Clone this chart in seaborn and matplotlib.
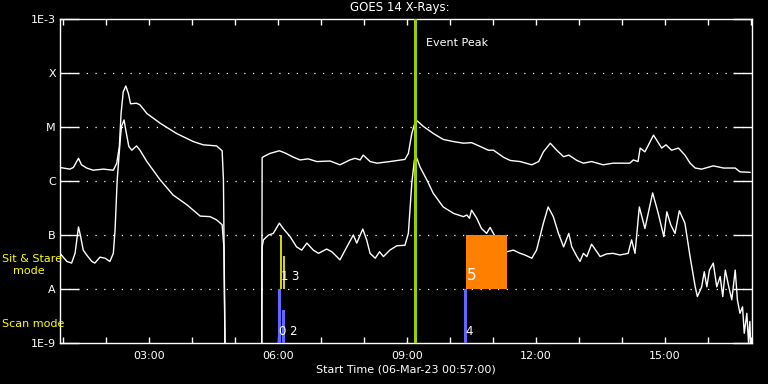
import numpy as np
import pandas as pd
import matplotlib
matplotlib.use("Agg")
import matplotlib.pyplot as plt
from matplotlib.ticker import FixedLocator, MultipleLocator, NullLocator
import seaborn as sns

# ---------------- data (hours of day, log10 flux W/m^2) ----------------
hours_long = [0.93, 1.16, 1.24, 1.36, 1.43, 1.55, 1.70, 1.94, 2.17, 2.25, 2.31, 2.35, 2.40, 2.46,
              2.52, 2.57, 2.71, 2.79, 2.95, 3.26, 3.64, 4.03, 4.26, 4.57, 4.70, 4.73, 4.77,
              5.62, 5.63, 5.66, 5.81, 6.03, 6.16, 6.36, 6.51, 6.70, 6.90, 7.21, 7.44, 7.67, 7.79,
              7.91, 7.98, 8.14, 8.30, 8.60, 8.95, 9.03, 9.11, 9.19, 9.24, 9.38, 9.61, 9.84,
              10.08, 10.31, 10.50, 10.70, 10.89, 11.01, 11.24, 11.40, 11.63, 11.90, 12.06,
              12.17, 12.33, 12.48, 12.64, 12.76, 12.95, 13.10, 13.29, 13.56, 13.79, 14.18,
              14.26, 14.37, 14.42, 14.53, 14.73, 14.92, 15.02, 15.15, 15.31, 15.46, 15.58,
              15.70, 15.85, 16.12, 16.36, 16.63, 16.74, 16.98]
log_long = [-5.75, -5.78, -5.75, -5.58, -5.70, -5.76, -5.80, -5.78, -5.80, -5.67, -5.36, -4.75,
            -4.35, -4.24, -4.38, -4.57, -4.56, -4.59, -4.75, -4.93, -5.12, -5.27, -5.33, -5.35,
            -5.44, -5.98, -9.30,
            -9.30, -5.57, -5.55, -5.49, -5.44, -5.48, -5.56, -5.61, -5.59, -5.64, -5.63, -5.70,
            -5.61, -5.58, -5.61, -5.52, -5.64, -5.67, -5.64, -5.60, -5.49, -5.12, -4.90, -4.89,
            -4.99, -5.12, -5.23, -5.27, -5.30, -5.29, -5.36, -5.43, -5.43, -5.56, -5.62, -5.64,
            -5.70, -5.64, -5.46, -5.30, -5.43, -5.55, -5.52, -5.62, -5.67, -5.64, -5.70, -5.67,
            -5.67, -5.61, -5.64, -5.39, -5.46, -5.15, -5.39, -5.33, -5.43, -5.39, -5.52, -5.67,
            -5.76, -5.78, -5.72, -5.76, -5.76, -5.83, -5.84]

hours_short = [0.93, 1.09, 1.20, 1.28, 1.36, 1.41, 1.47, 1.55, 1.67, 1.74, 1.86, 1.98, 2.09, 2.17,
               2.21, 2.26, 2.33, 2.36, 2.42, 2.46, 2.53, 2.60, 2.71, 2.79, 2.95, 3.26, 3.56,
               3.88, 4.19, 4.42, 4.57, 4.70, 4.74, 4.77,
               5.62, 5.63, 5.66, 5.78, 5.89, 6.03, 6.12, 6.28, 6.43, 6.55, 6.67, 6.82, 6.94,
               7.13, 7.25, 7.44, 7.60, 7.75, 7.83, 7.97, 8.06, 8.14, 8.26, 8.36, 8.45, 8.60,
               8.76, 8.95, 9.03, 9.11, 9.17, 9.23, 9.30, 9.46, 9.61, 9.84, 10.08, 10.31, 10.39,
               10.45, 10.50, 10.62, 10.73, 10.85, 10.93, 11.05, 11.16, 11.32, 11.47, 11.63,
               11.74, 11.90, 12.01, 12.17, 12.28, 12.40, 12.52, 12.64, 12.76, 12.83, 12.95,
               13.02, 13.10, 13.18, 13.29, 13.49, 13.64, 13.79, 13.95, 14.14, 14.22, 14.30,
               14.40, 14.53, 14.71, 14.84, 14.97, 15.04, 15.13, 15.23, 15.33, 15.46, 15.58,
               15.70, 15.75, 15.85, 15.91, 15.97, 16.03, 16.12, 16.20, 16.28, 16.34, 16.40,
               16.48, 16.55, 16.63, 16.68, 16.74, 16.80, 16.84, 16.90, 16.94, 16.97, 17.00]
log_short = [-7.34, -7.49, -7.52, -7.34, -6.85, -7.03, -7.28, -7.37, -7.49, -7.52, -7.41, -7.43,
             -7.49, -7.34, -6.91, -5.98, -5.24, -4.99, -4.87, -5.06, -5.36, -5.43, -5.35, -5.43,
             -5.64, -5.98, -6.26, -6.44, -6.65, -6.66, -6.72, -6.81, -7.22, -9.30,
             -9.30, -7.22, -7.09, -7.00, -6.97, -6.78, -6.88, -7.03, -7.22, -7.28, -7.15, -7.28,
             -7.34, -7.26, -7.31, -7.46, -7.22, -7.00, -7.15, -6.89, -7.09, -7.34, -7.43, -7.31,
             -7.40, -7.28, -7.20, -7.19, -6.97, -6.04, -5.61, -5.58, -5.74, -5.98, -6.23, -6.48,
             -6.60, -6.66, -6.63, -6.69, -6.54, -6.69, -6.88, -6.97, -6.86, -7.03, -7.15, -7.31,
             -7.28, -7.34, -7.37, -7.43, -7.28, -6.78, -6.48, -6.66, -6.97, -7.22, -6.97, -7.22,
             -7.40, -7.49, -7.34, -7.40, -7.17, -7.40, -7.35, -7.34, -7.37, -7.34, -7.09, -7.34,
             -6.48, -6.88, -6.22, -6.60, -7.03, -6.57, -6.81, -6.97, -6.55, -6.78, -7.40, -7.96,
             -8.14, -7.96, -7.68, -7.96, -7.65, -7.52, -7.96, -7.77, -8.14, -7.65, -7.96, -8.20,
             -7.65, -8.20, -8.45, -8.33, -8.82, -8.45, -9.00, -8.60, -9.30]

class_labels = ["1E-9", "A", "B", "C", "M", "X", "1E-3"]
class_levels = [1e-9, 1e-8, 1e-7, 1e-6, 1e-5, 1e-4, 1e-3]
hour_ticks = [3, 6, 9, 12, 15]
hour_labels = ["03:00", "06:00", "09:00", "12:00", "15:00"]

# scan-mode events (blue bars)
scan_ids = ["0", "2", "4"]
scan_start = [6.00, 6.09, 10.33]
scan_end = [6.07, 6.16, 10.40]
scan_top = [1e-8, 4.1e-9, 1e-8]
# sit & stare events
stare_ids = ["1", "3", "5"]
stare_start = [6.06, 6.14, 10.37]
stare_end = [6.06, 6.14, 11.32]
stare_top = [1e-7, 4.1e-8, 1e-7]
peak_time = 9.19

# ---------------- figure ----------------
sns.set_style("dark")
plt.rcParams["font.family"] = ["DejaVu Sans"]
W, H = 768, 384
fig = plt.figure(figsize=(W / 100, H / 100), dpi=100, facecolor="black")
ax = fig.add_axes([60 / W, 1 - 343 / H, 692 / W, 324 / H], facecolor="black")

df_long = pd.DataFrame({"t": hours_long, "f": 10 ** np.array(log_long)})
df_short = pd.DataFrame({"t": hours_short, "f": 10 ** np.array(log_short)})
sns.lineplot(data=df_long, x="t", y="f", ax=ax, color="white", linewidth=1.0,
             sort=False, estimator=None)
sns.lineplot(data=df_short, x="t", y="f", ax=ax, color="white", linewidth=1.0,
             sort=False, estimator=None)

ax.set_yscale("log")
ax.set_ylim(1e-9, 1e-3)
ax.set_xlim(0.93, 17.02)

# dotted class grid
for lv in class_levels[1:-1]:
    ax.axhline(lv, color="white", linestyle=(0, (1, 6)), linewidth=0.9, zorder=1)

# scan bars
blue = "#6464ff"
for s, e, t in zip(scan_start, scan_end, scan_top):
    ax.bar(s, t - 1e-9, bottom=1e-9, width=e - s, align="edge", color=blue,
           linewidth=0, zorder=3)
# sit & stare
for s, e, t in zip(stare_start, stare_end, stare_top):
    if e - s > 0.05:
        ax.bar(s, t - 1e-8, bottom=1e-8, width=e - s, align="edge", color="#ff8000",
               linewidth=0, zorder=3)
    else:
        ax.vlines(s, 1e-8, t, color="#ffff00", linewidth=1.2, zorder=3)

# labels for events (nudged so they sit side by side)
lab_kw = dict(color="white", fontsize=8.5, zorder=5, ha="left", va="bottom")
ax.text(scan_start[0] + 0.01, 1.25e-9, scan_ids[0], **lab_kw)
ax.text(scan_start[1] + 0.16, 1.25e-9, scan_ids[1], **lab_kw)
ax.text(scan_start[2] + 0.02, 1.25e-9, scan_ids[2], **lab_kw)
ax.text(stare_start[0] + 0.01, 1.3e-8, stare_ids[0], **lab_kw)
ax.text(stare_start[1] + 0.16, 1.3e-8, stare_ids[1], **lab_kw)
ax.text(stare_start[2] + 0.02, 1.3e-8, stare_ids[2], ha="left", va="bottom",
        color="white", fontsize=11, zorder=5)

# event peak
ax.axvline(peak_time, color="#9ccd00", linewidth=2.2, zorder=4)
ax.text(peak_time + 0.25, 10 ** -3.45, "Event Peak", color="white", fontsize=8,
        ha="left", va="center")

# axes styling
for sp in ax.spines.values():
    sp.set_color("white")
    sp.set_linewidth(1.0)
ax.yaxis.set_major_locator(FixedLocator(class_levels))
ax.set_yticklabels(class_labels)
ax.yaxis.set_minor_locator(NullLocator())
ax.set_xticks(hour_ticks)
ax.set_xticklabels(hour_labels)
ax.xaxis.set_minor_locator(MultipleLocator(1))
ax.tick_params(axis="y", which="major", direction="in", length=14, width=1,
               colors="white", left=True, right=True, labelsize=8, pad=3)
ax.tick_params(axis="x", which="both", direction="in", length=4, width=1,
               colors="white", bottom=True, top=True, labelsize=8, pad=6)
ax.set_xlabel("")
ax.set_ylabel("")
ax.grid(False)

fig.text(400 / W, 1 - 8 / H, "GOES 14 X-Rays:", color="white", fontsize=8.5,
         ha="center", va="center")
fig.text(406 / W, 1 - 369 / H, "Start Time (06-Mar-23 00:57:00)", color="white",
         fontsize=8, ha="center", va="center")
fig.text(2 / W, 1 - 259 / H, "Sit & Stare", color="#ffff00", fontsize=8,
         ha="left", va="center")
fig.text(13 / W, 1 - 271 / H, "mode", color="#ffff00", fontsize=8,
         ha="left", va="center")
fig.text(2 / W, 1 - 324 / H, "Scan mode", color="#ffff00", fontsize=8,
         ha="left", va="center")

fig.savefig("out.png", dpi=100, facecolor="black")
